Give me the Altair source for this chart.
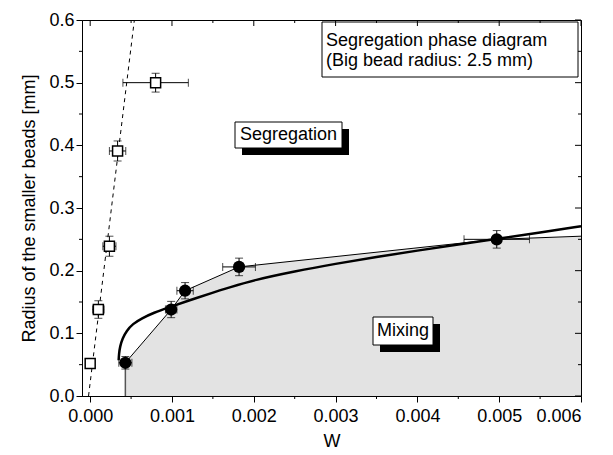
import altair as alt
import pandas as pd

# ---- data ----
# segregation points (open squares)
sq_w = [0.0, 0.0001, 0.000235, 0.000335, 0.0008]
sq_r = [0.052, 0.138, 0.239, 0.391, 0.5]
sq_werr = [0.00002, 0.00007, 0.00008, 0.0001, 0.0004]
sq_rerr = [0.004, 0.014, 0.016, 0.016, 0.015]

# mixing boundary points (filled circles)
ci_w = [0.00043, 0.00099, 0.00116, 0.00182, 0.00497]
ci_r = [0.053, 0.138, 0.168, 0.206, 0.25]
ci_werr = [0.00008, 0.00007, 0.0001, 0.0002, 0.0004]
ci_rerr = [0.01, 0.013, 0.013, 0.014, 0.014]

# boundary continuation to the right edge
ext_w = [0.006]
ext_r = [0.255]

# thick fitted curve
fit_w = [0.000348, 0.000352, 0.000365, 0.000395, 0.000445, 0.00052, 0.00063,
         0.00078, 0.00095, 0.0012, 0.0015, 0.0017, 0.002, 0.0025, 0.003,
         0.0035, 0.004, 0.0045, 0.005, 0.0055, 0.006]
fit_r = [0.057, 0.067, 0.079, 0.092, 0.104, 0.115, 0.124,
         0.133, 0.141, 0.152, 0.165, 0.173, 0.185, 0.199, 0.211,
         0.222, 0.232, 0.242, 0.251, 0.261, 0.271]

# dashed line
dash_w = [-0.00002, 0.00054]
dash_r = [0.0, 0.6]

x_ticks = [0.0, 0.001, 0.002, 0.003, 0.004, 0.005, 0.006]
x_minor = [0.0005, 0.0015, 0.0025, 0.0035, 0.0045, 0.0055]
y_ticks = [0.0, 0.1, 0.2, 0.3, 0.4, 0.5, 0.6]
y_minor = [0.05, 0.15, 0.25, 0.35, 0.45, 0.55]

title_lines = ["Segregation phase diagram", "(Big bead radius: 2.5 mm)"]
label_seg = "Segregation"
label_mix = "Mixing"

FONT = "Liberation Sans"
W, H = 499, 376

xs = alt.Scale(domain=[-0.0001, 0.006], nice=False, zero=False)
ys = alt.Scale(domain=[0.0, 0.6], nice=False)

sq = pd.DataFrame({"w": sq_w, "r": sq_r,
                   "w0": [a - b for a, b in zip(sq_w, sq_werr)],
                   "w1": [a + b for a, b in zip(sq_w, sq_werr)],
                   "r0": [a - b for a, b in zip(sq_r, sq_rerr)],
                   "r1": [a + b for a, b in zip(sq_r, sq_rerr)]})
ci = pd.DataFrame({"w": ci_w, "r": ci_r,
                   "w0": [a - b for a, b in zip(ci_w, ci_werr)],
                   "w1": [a + b for a, b in zip(ci_w, ci_werr)],
                   "r0": [a - b for a, b in zip(ci_r, ci_rerr)],
                   "r1": [a + b for a, b in zip(ci_r, ci_rerr)]})
bnd = pd.DataFrame({"w": ci_w + ext_w, "r": ci_r + ext_r,
                    "i": list(range(len(ci_w) + len(ext_w)))})
fit = pd.DataFrame({"w": fit_w, "r": fit_r, "i": list(range(len(fit_w)))})
dash = pd.DataFrame({"w": dash_w, "r": dash_r})

X = lambda f="w": alt.X(f"{f}:Q", scale=xs, title="W",
                        axis=alt.Axis(values=x_ticks, format=".3f"))
Y = lambda f="r": alt.Y(f"{f}:Q", scale=ys, title="Radius of the smaller beads [mm]",
                        axis=alt.Axis(values=y_ticks, format=".1f"))

area = alt.Chart(bnd).mark_area(color="#e3e3e3", opacity=1, strokeWidth=0).encode(
    x=X(), y=Y())
vline = alt.Chart(ci.head(1)).mark_rule(color="#555555", strokeWidth=1.5).encode(
    x=X(), y=Y(), y2=alt.datum(0.0))
thin = alt.Chart(bnd).mark_line(color="black", strokeWidth=1).encode(
    x=X(), y=Y(), order="i:Q")
thick = alt.Chart(fit).mark_line(color="black", strokeWidth=2.5, interpolate="basis").encode(
    x=X(), y=Y(), order="i:Q")
dashed = alt.Chart(dash).mark_line(color="black", strokeWidth=1, strokeDash=[4, 4]).encode(
    x=X(), y=Y())


def errbars(df):
    xe = alt.Chart(df).mark_rule(color="black", strokeWidth=1).encode(
        x=X("w0"), x2="w1:Q", y=Y())
    ye = alt.Chart(df).mark_rule(color="black", strokeWidth=1).encode(
        x=X(), y=Y("r0"), y2="r1:Q")
    c1 = alt.Chart(df).mark_tick(color="black", orient="horizontal", size=8, thickness=1).encode(
        x=X(), y=Y("r0"))
    c2 = alt.Chart(df).mark_tick(color="black", orient="horizontal", size=8, thickness=1).encode(
        x=X(), y=Y("r1"))
    c3 = alt.Chart(df).mark_tick(color="black", orient="vertical", size=8, thickness=1).encode(
        x=X("w0"), y=Y())
    c4 = alt.Chart(df).mark_tick(color="black", orient="vertical", size=8, thickness=1).encode(
        x=X("w1"), y=Y())
    return [xe, ye, c1, c2, c3, c4]


squares = alt.Chart(sq).mark_point(shape="square", filled=True, fill="white", stroke="black",
                                   strokeWidth=1.5, size=100, opacity=1).encode(x=X(), y=Y())
circles = alt.Chart(ci).mark_point(shape="circle", filled=True, color="black",
                                   size=150, opacity=1).encode(x=X(), y=Y())

one = pd.DataFrame({"a": [0]})


def box(x0, y0, x1, y1, shadow=True):
    layers = []
    if shadow:
        layers.append(alt.Chart(one).mark_rect(color="black").encode(
            x=alt.value(x0 + 7), x2=alt.value(x1 + 7), y=alt.value(y0 + 7), y2=alt.value(y1 + 7)))
    layers.append(alt.Chart(one).mark_rect(fill="white", stroke="black", strokeWidth=1).encode(
        x=alt.value(x0), x2=alt.value(x1), y=alt.value(y0), y2=alt.value(y1)))
    return layers


def txt(s, x, y, align="center"):
    return alt.Chart(one).mark_text(font=FONT, fontSize=18, color="black", align=align,
                                    baseline="middle").encode(
        x=alt.value(x), y=alt.value(y), text=alt.datum(s))


seg_box = box(153, 102, 260, 128)
mix_box = box(291, 297, 351, 325)
title_box = box(240, 2, 496, 57, shadow=False)

# frame ticks (top/right inward, minor outward on bottom/left)
xt = pd.DataFrame({"w": x_ticks})
xm = pd.DataFrame({"w": x_minor})
yt = pd.DataFrame({"r": y_ticks})
ym = pd.DataFrame({"r": y_minor})
top_major = alt.Chart(xt).mark_rule(color="black").encode(x=X(), y=alt.value(0), y2=alt.value(6))
top_minor = alt.Chart(xm).mark_rule(color="black").encode(x=X(), y=alt.value(0), y2=alt.value(3))
bot_minor = alt.Chart(xm).mark_rule(color="black").encode(x=X(), y=alt.value(H), y2=alt.value(H + 3))
right_major = alt.Chart(yt).mark_rule(color="black").encode(y=Y(), x=alt.value(W), x2=alt.value(W - 6))
right_minor = alt.Chart(ym).mark_rule(color="black").encode(y=Y(), x=alt.value(W), x2=alt.value(W - 3))
left_minor = alt.Chart(ym).mark_rule(color="black").encode(y=Y(), x=alt.value(0), x2=alt.value(-3))

layers = ([area, vline, thin, thick, dashed] + errbars(sq) + errbars(ci) +
          [squares, circles] + seg_box + [txt(label_seg, 206.5, 115)] +
          mix_box + [txt(label_mix, 321, 311)] +
          title_box + [txt(title_lines[0], 244, 21, "left"), txt(title_lines[1], 244, 41, "left")] +
          [top_major, top_minor, bot_minor, right_major, right_minor, left_minor])

chart = alt.layer(*layers).properties(
    width=W, height=H,
    autosize=alt.AutoSizeParams(type="none"),
    padding={"left": 74, "top": 12, "right": 24, "bottom": 56},
    background="white",
).configure_view(
    stroke="black", strokeWidth=1
).configure_axis(
    labelFont=FONT, titleFont=FONT, labelFontSize=18, titleFontSize=18,
    titleFontWeight="normal", labelColor="black", titleColor="black",
    domainColor="black", tickColor="black", grid=False, tickSize=6,
    labelPadding=2,
).configure_axisY(
    titlePadding=10,
).configure_axisX(
    labelPadding=5, titlePadding=7,
)

chart.save("out.html", embed_options={"renderer": "svg", "actions": False})
